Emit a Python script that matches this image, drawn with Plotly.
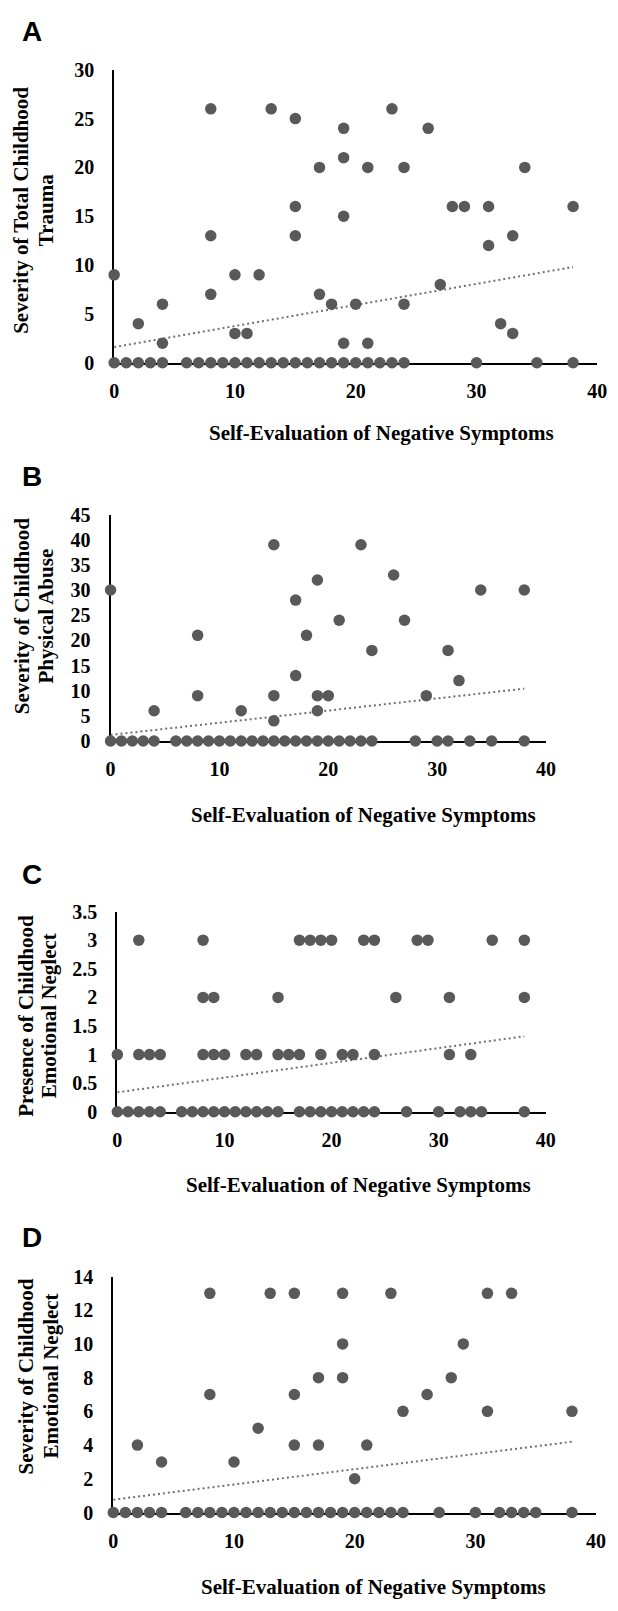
import plotly.graph_objects as go

# ---------------- data ----------------
x_ticks = [0, 10, 20, 30, 40]
x_tick_labels = ["0", "10", "20", "30", "40"]
x_title = "Self-Evaluation of Negative Symptoms"
trend_x = [0, 38]

# Panel A: Severity of Total Childhood Trauma
a_zero_x = [0, 1, 2, 3, 4, 6, 7, 8, 9, 10, 11, 12, 13, 14, 15, 16, 17, 18, 19, 20,
            21, 22, 23, 24, 30, 35, 38]
a_x = [0, 2, 4, 4, 8, 8, 8, 10, 10, 11, 12, 13, 15, 15, 15, 17, 17, 18, 19, 19,
       19, 19, 20, 21, 21, 23, 24, 24, 26, 27, 28, 29, 31, 31, 32, 33, 33, 34, 38]
a_y = [9, 4, 6, 2, 26, 13, 7, 9, 3, 3, 9, 26, 25, 16, 13, 20, 7, 6, 24, 21,
       15, 2, 6, 20, 2, 26, 20, 6, 24, 8, 16, 16, 16, 12, 4, 13, 3, 20, 16]
a_trend = [1.6, 9.8]
a_y_ticks = [0, 5, 10, 15, 20, 25, 30]
a_y_labels = ["0", "5", "10", "15", "20", "25", "30"]

# Panel B: Severity of Childhood Physical Abuse
b_zero_x = [0, 1, 2, 3, 4, 6, 7, 8, 9, 10, 11, 12, 13, 14, 15, 16, 17, 18, 19, 20,
            21, 22, 23, 24, 28, 30, 31, 33, 35, 38]
b_x = [0, 4, 8, 8, 12, 15, 15, 15, 17, 17, 18, 19, 19, 19, 20, 21, 23, 24, 26, 27,
       29, 31, 32, 34, 38]
b_y = [30, 6, 21, 9, 6, 39, 9, 4, 28, 13, 21, 32, 9, 6, 9, 24, 39, 18, 33, 24,
       9, 18, 12, 30, 30]
b_trend = [1.2, 10.4]
b_y_ticks = [0, 5, 10, 15, 20, 25, 30, 35, 40, 45]
b_y_labels = ["0", "5", "10", "15", "20", "25", "30", "35", "40", "45"]

# Panel C: Presence of Childhood Emotional Neglect
c_x0 = [0, 1, 2, 3, 4, 6, 7, 8, 9, 10, 11, 12, 13, 14, 15, 17, 18, 19, 20, 21,
        22, 23, 24, 27, 30, 32, 33, 34, 38]
c_x1 = [0, 2, 3, 4, 8, 9, 10, 12, 13, 15, 16, 17, 19, 21, 22, 24, 31, 33]
c_x2 = [8, 9, 15, 26, 31, 38]
c_x3 = [2, 8, 17, 18, 19, 20, 23, 24, 28, 29, 35, 38]
c_trend = [0.34, 1.32]
c_y_ticks = [0, 0.5, 1, 1.5, 2, 2.5, 3, 3.5]
c_y_labels = ["0", "0.5", "1", "1.5", "2", "2.5", "3", "3.5"]

# Panel D: Severity of Childhood Emotional Neglect
d_zero_x = [0, 1, 2, 3, 4, 6, 7, 8, 9, 10, 11, 12, 13, 14, 15, 16, 17, 18, 19, 20,
            21, 22, 23, 24, 27, 30, 32, 33, 34, 35, 38]
d_x = [2, 4, 8, 8, 10, 12, 13, 15, 15, 15, 17, 17, 19, 19, 19, 20, 21, 23, 24, 26,
       28, 29, 31, 31, 33, 38]
d_y = [4, 3, 13, 7, 3, 5, 13, 13, 7, 4, 8, 4, 13, 10, 8, 2, 4, 13, 6, 7,
       8, 10, 13, 6, 13, 6]
d_trend = [0.76, 4.2]
d_y_ticks = [0, 2, 4, 6, 8, 10, 12, 14]
d_y_labels = ["0", "2", "4", "6", "8", "10", "12", "14"]

# ---------------- layout helpers ----------------
PAGE_OFFSET = 8          # default body margin of the html page
W, H = 618 - PAGE_OFFSET, 1611 - PAGE_OFFSET
SERIF = "Liberation Serif, Times New Roman, serif"
SANS = "Liberation Sans, Arial, sans-serif"
DOT = "#595959"
TREND = "#707070"

def px(xp):
    return (xp - PAGE_OFFSET) / W

def py(yp):
    return 1 - (yp - PAGE_OFFSET) / H

panels = [
    dict(letter="A", xs=a_zero_x + a_x, ys=[0] * len(a_zero_x) + a_y, trend=a_trend,
         yt=a_y_ticks, yl=a_y_labels, yr=[0, 30],
         box=(111.7, 607.0, 59.5, 356.5), letter_y=21,
         title=("Severity of Total Childhood", "Trauma"), ty=(16.7, 41.7, 202),
         xt=(386, 427.7)),
    dict(letter="B", xs=b_zero_x + b_x, ys=[0] * len(b_zero_x) + b_y, trend=b_trend,
         yt=b_y_ticks, yl=b_y_labels, yr=[0, 45],
         box=(108.0, 554.5, 510.5, 740.0), letter_y=471.7,
         title=("Severity of Childhood", "Physical Abuse"), ty=(16.7, 41.7, 613),
         xt=(367, 815)),
    dict(letter="C", xs=c_x0 + c_x1 + c_x2 + c_x3,
         ys=[0] * len(c_x0) + [1] * len(c_x1) + [2] * len(c_x2) + [3] * len(c_x3),
         trend=c_trend, yt=c_y_ticks, yl=c_y_labels, yr=[0, 3.5],
         box=(115.0, 554.2, 913.0, 1116.0), letter_y=875,
         title=("Presence of Childhood", "Emotional Neglect"), ty=(21, 45, 1019),
         xt=(361.7, 1190)),
    dict(letter="D", xs=d_zero_x + d_x, ys=[0] * len(d_zero_x) + d_y, trend=d_trend,
         yt=d_y_ticks, yl=d_y_labels, yr=[0, 14],
         box=(110.8, 605.8, 1283.0, 1522.3), letter_y=1243,
         title=("Severity of Childhood", "Emotional Neglect"), ty=(21.7, 47.3, 1384),
         xt=(378, 1598)),
]

fig = go.Figure()
annotations = []
layout_axes = {}

for i, p in enumerate(panels, start=1):
    xa = "x" if i == 1 else f"x{i}"
    ya = "y" if i == 1 else f"y{i}"
    fig.add_trace(go.Scatter(
        x=trend_x, y=p["trend"], mode="lines", xaxis=xa, yaxis=ya,
        line=dict(color=TREND, width=2, dash="2px,3px"),
        cliponaxis=False, showlegend=False, hoverinfo="skip"))
    fig.add_trace(go.Scatter(
        x=p["xs"], y=p["ys"], mode="markers", xaxis=xa, yaxis=ya,
        marker=dict(color=DOT, size=11.5, line=dict(width=0)),
        cliponaxis=False, showlegend=False))

    x0, x1, y0, y1 = p["box"]
    xkey = "xaxis" if i == 1 else f"xaxis{i}"
    ykey = "yaxis" if i == 1 else f"yaxis{i}"
    layout_axes[xkey] = dict(
        domain=[px(x0), px(x1)], range=[0, 40], anchor=ya,
        tickmode="array", tickvals=x_ticks, ticktext=x_tick_labels,
        showline=True, linecolor="black", linewidth=2, showgrid=False,
        zeroline=False, ticks="", layer="below traces",
        tickfont=dict(family=SERIF, size=20, color="black", weight="bold"),
        ticklabelstandoff=9, fixedrange=True)
    layout_axes[ykey] = dict(
        domain=[py(y1), py(y0)], range=p["yr"], anchor=xa,
        tickmode="array", tickvals=p["yt"], ticktext=p["yl"],
        showline=True, linecolor="black", linewidth=2, showgrid=False,
        zeroline=False, ticks="", layer="below traces",
        tickfont=dict(family=SERIF, size=20, color="black", weight="bold"),
        ticklabelstandoff=14, fixedrange=True)

    annotations.append(dict(
        text=p["letter"], x=px(15), y=py(p["letter_y"]), xref="paper", yref="paper",
        xanchor="left", yanchor="middle", showarrow=False,
        font=dict(family=SANS, size=28, color="black", weight="bold")))
    annotations.append(dict(
        text=x_title, x=px(p["xt"][0]), y=py(p["xt"][1]), xref="paper", yref="paper",
        xanchor="center", yanchor="middle", showarrow=False,
        font=dict(family=SERIF, size=21, color="black", weight="bold")))
    l1x, l2x, cy = p["ty"]
    for txt, lx in ((p["title"][0], l1x), (p["title"][1], l2x)):
        annotations.append(dict(
            text=txt, x=px(lx), y=py(cy), xref="paper", yref="paper",
            xanchor="center", yanchor="middle", textangle=-90, showarrow=False,
            font=dict(family=SERIF, size=21, color="black", weight="bold")))

fig.update_layout(
    width=W, height=H, margin=dict(l=0, r=0, t=0, b=0),
    paper_bgcolor="white", plot_bgcolor="white",
    showlegend=False, annotations=annotations, **layout_axes)

fig.write_html("out.html", config={"displayModeBar": False})
